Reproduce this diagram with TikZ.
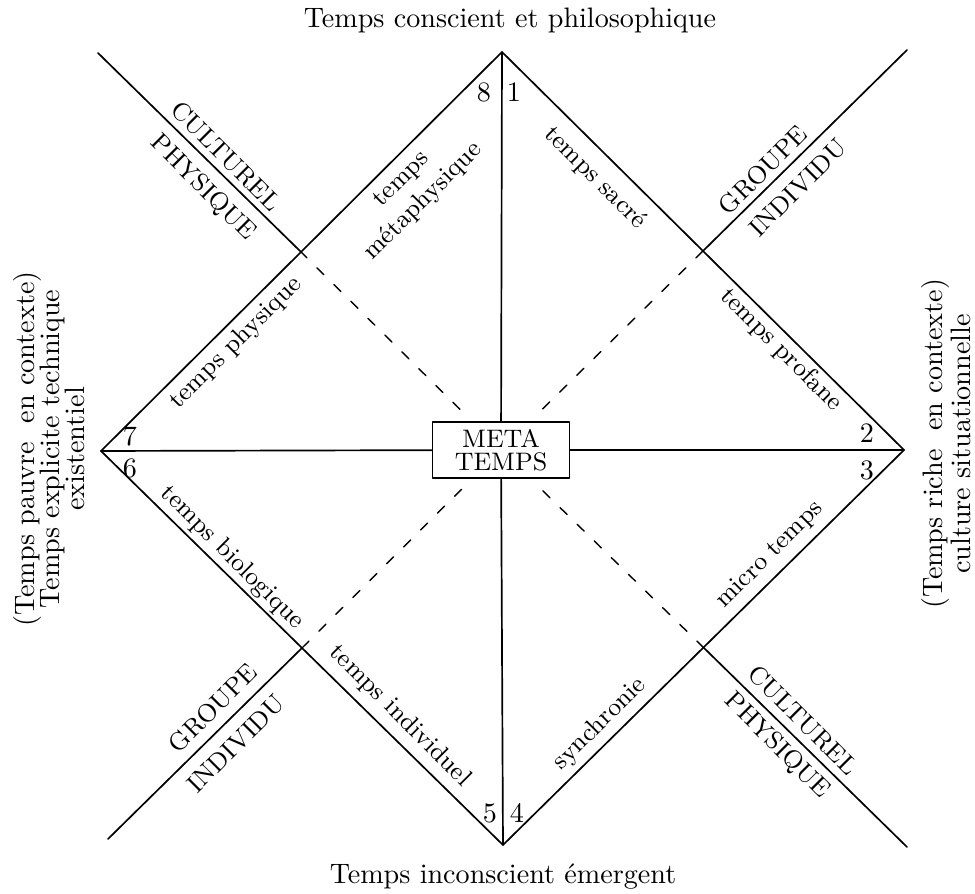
\documentclass[tikz,border=0pt]{standalone}
\usepackage{tikz}
\usetikzlibrary{arrows.meta}

\begin{document}
\begin{tikzpicture}[line cap=round,line join=round,x=0.0125cm,y=-0.0125cm,
  trait/.style={line width=0.6pt},
  tiret/.style={line width=0.5pt,dash pattern=on 3.5pt off 5pt,shorten >=3pt},
  lib/.style={font=\normalsize,inner sep=1pt},
  tps/.style={font=\small,inner sep=1pt},
  axelab/.style={font=\small,inner sep=1pt},
  num/.style={font=\normalsize,inner sep=1pt}]
\useasboundingbox (0,0) rectangle (975,894);
% sommets du losange
\coordinate (haut) at (502,52);
\coordinate (bas) at (503,845);
\coordinate (gauche) at (101,451);
\coordinate (droite) at (904,450);
% milieux des cotes
\coordinate (mhg) at (300,251);
\coordinate (mhd) at (703,251);
\coordinate (mbg) at (302,648);
\coordinate (mbd) at (704,648);
% bouts des axes obliques
\coordinate (ehg) at (98,53);
\coordinate (ehd) at (907,50);
\coordinate (ebg) at (108,839);
\coordinate (ebd) at (907,847);
\node[draw,trait,fill=white,align=center,font=\small,inner sep=2pt,
  minimum width=1.71cm,minimum height=0.70cm] (meta) at (501,450) {META\\[-3pt]TEMPS};
\draw[trait] (haut) -- (droite) -- (bas) -- (gauche) -- cycle;
\draw[trait] (haut) -- (meta) -- (bas);
\draw[trait] (gauche) -- (meta) -- (droite);
\draw[trait] (ehg) -- (mhg);
\draw[trait] (ehd) -- (mhd);
\draw[trait] (ebg) -- (mbg);
\draw[trait] (ebd) -- (mbd);
\draw[tiret] (mhg) -- (meta);
\draw[tiret] (mhd) -- (meta);
\draw[tiret] (mbg) -- (meta);
\draw[tiret] (mbd) -- (meta);
% titres
\node[lib] (titreh) at (510,20) {Temps conscient et philosophique};
\node[lib] (titreb) at (503,877) {Temps inconscient \'emergent};
\node[lib,rotate=90,align=center] (titreg) at (49,449)
  {(Temps pauvre\ \ en contexte)\\[-3pt]Temps explicite technique\\[-3pt]existentiel};
\node[lib,rotate=90,align=center] (titred) at (946,444)
  {(Temps riche\ \ en contexte)\\[-2pt]culture situationnelle};
% axes obliques
\node[axelab,rotate=-45] (cult1) at (226,156) {CULTUREL};
\node[axelab,rotate=-45] (phys1) at (203,188) {PHYSIQUE};
\node[axelab,rotate=45] (grp1) at (763,170) {GROUPE};
\node[axelab,rotate=45] (ind1) at (798,188) {INDIVIDU};
\node[axelab,rotate=45] (grp2) at (213,708) {GROUPE};
\node[axelab,rotate=45] (ind2) at (236,744) {INDIVIDU};
\node[axelab,rotate=-45] (cult2) at (803,720) {CULTUREL};
\node[axelab,rotate=-45] (phys2) at (777,746) {PHYSIQUE};
% les huit temps
\node[tps,rotate=45,align=center] (metaph) at (413,191) {temps\\m\'etaphysique};
\node[tps,rotate=-45] (sacre) at (595,178) {temps sacr\'e};
\node[tps,rotate=45] (physq) at (236,343) {temps physique};
\node[tps,rotate=-45] (profa) at (781,350) {temps profane};
\node[tps,rotate=-45] (biolo) at (232,558) {temps biologique};
\node[tps,rotate=45] (micro) at (770,555) {micro temps};
\node[tps,rotate=-45] (indiv) at (400,716) {temps individuel};
\node[tps,rotate=45] (synch) at (600,724) {synchronie};
\begin{scriptsize}
\node[num] (n1) at (514,92) {1};
\node[num] (n2) at (867,433) {2};
\node[num] (n3) at (867,470) {3};
\node[num] (n4) at (517,813) {4};
\node[num] (n5) at (490,813) {5};
\node[num] (n6) at (130,468) {6};
\node[num] (n7) at (130,436) {7};
\node[num] (n8) at (484,92) {8};
\end{scriptsize}
\end{tikzpicture}
\end{document}
